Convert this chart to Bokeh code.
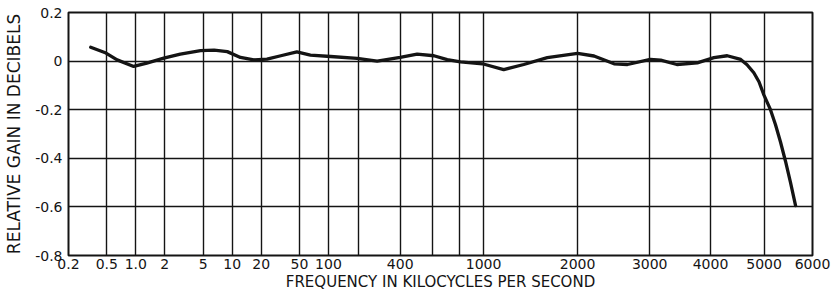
import math
from bokeh.plotting import figure
from bokeh.models import Range1d, FixedTicker, CustomJSTickFormatter
from bokeh.embed import file_html
from bokeh.resources import INLINE

# ---- data ----
FREQ_KC = [0.34, 0.49, 0.64, 0.95, 1.3, 1.95, 2.9, 4.7, 6.5, 8.9, 12.2, 16.8, 23,
           32, 47, 65, 106, 196, 282, 400, 500, 610, 705, 806, 990, 1185, 1385,
           1640, 2000, 2210, 2480, 2670, 3010, 3170, 3430, 3770, 4060, 4300, 4550,
           4670, 4800, 4900, 5000, 5127, 5228, 5329, 5431, 5534, 5640]
GAIN_DB = [0.057, 0.033, 0.005, -0.022, -0.008, 0.012, 0.029, 0.043, 0.045, 0.039,
           0.015, 0.005, 0.008, 0.022, 0.038, 0.025, 0.019, 0.011, 0.000, 0.015,
           0.029, 0.022, 0.006, -0.003, -0.011, -0.035, -0.014, 0.014, 0.032, 0.021,
           -0.011, -0.014, 0.007, 0.004, -0.014, -0.007, 0.014, 0.022, 0.007, -0.015,
           -0.048, -0.085, -0.141, -0.200, -0.262, -0.333, -0.412, -0.499, -0.595]

X_TICK_KC = [0.2, 0.5, 1.0, 2, 5, 10, 20, 50, 100, 400, 1000, 2000, 3000, 4000, 5000, 6000]
X_TICK_LABELS = ["0.2", "0.5", "1.0", "2", "5", "10", "20", "50", "100", "400",
                 "1000", "2000", "3000", "4000", "5000", "6000"]
X_GRID_KC = [0.5, 1, 2, 5, 10, 20, 50, 100, 200, 400, 600, 800, 1000, 2000, 3000, 4000, 5000]
Y_TICKS = [0.2, 0, -0.2, -0.4, -0.6, -0.8]
Y_TICK_LABELS = ["0.2", "0", "-0.2", "-0.4", "-0.6", "-0.8"]
Y_GRID = [0, -0.2, -0.4, -0.6]

X_TITLE = "FREQUENCY IN KILOCYCLES PER SECOND"
Y_TITLE = "RELATIVE GAIN IN DECIBELS"


def freq_scale(f):
    # the original chart's frequency axis: logarithmic up to 100 kc,
    # square-root law above 100 kc
    if f <= 100:
        return math.log10(f / 0.2)
    return math.log10(500) + 0.0745 * (math.sqrt(f) - 10)


FONT = "DejaVu Sans"
INK = "#141414"

xs = [freq_scale(f) for f in FREQ_KC]
x_tick_pos = [freq_scale(f) for f in X_TICK_KC]

LOOKUP = """
let i = 0, best = 1e9;
for (let k = 0; k < pos.length; k++) {
    const d = Math.abs(pos[k] - tick);
    if (d < best) { best = d; i = k; }
}
return labels[i];
"""

p = figure(width=833, height=293, output_backend="svg", toolbar_location=None,
           x_range=Range1d(0, freq_scale(6000)), y_range=Range1d(-0.8, 0.2),
           min_border_left=68, min_border_right=21, min_border_top=12,
           min_border_bottom=38, background_fill_color="white",
           border_fill_color="white")

p.outline_line_color = INK
p.outline_line_width = 2

p.xaxis.ticker = FixedTicker(ticks=x_tick_pos)
p.xaxis.formatter = CustomJSTickFormatter(
    args=dict(pos=x_tick_pos, labels=X_TICK_LABELS), code=LOOKUP)
p.yaxis.ticker = FixedTicker(ticks=Y_TICKS)
p.yaxis.formatter = CustomJSTickFormatter(
    args=dict(pos=Y_TICKS, labels=Y_TICK_LABELS), code=LOOKUP)

for ax in (p.xaxis, p.yaxis):
    ax.axis_line_color = None
    ax.major_tick_line_color = None
    ax.minor_tick_line_color = None
    ax.major_tick_out = 0
    ax.major_tick_in = 0
    ax.minor_tick_out = 0
    ax.minor_tick_in = 0
    ax.major_label_text_font = FONT
    ax.major_label_text_font_size = "14px"
    ax.major_label_text_color = INK
    ax.axis_label_text_font = FONT
    ax.axis_label_text_font_style = "normal"
    ax.axis_label_text_color = INK

p.xaxis.axis_label = X_TITLE
p.xaxis.axis_label_text_font_size = "15px"
p.xaxis.major_label_standoff = 3
p.xaxis.axis_label_standoff = 1

p.yaxis.axis_label = Y_TITLE
p.yaxis.axis_label_text_font_size = "17px"
p.yaxis.major_label_standoff = 6
p.yaxis.axis_label_standoff = 8

p.xgrid.ticker = FixedTicker(ticks=[freq_scale(f) for f in X_GRID_KC])
p.ygrid.ticker = FixedTicker(ticks=Y_GRID)
for g in (p.xgrid, p.ygrid):
    g.grid_line_color = INK
    g.grid_line_width = 1.4
    g.grid_line_alpha = 1.0

p.line(xs, GAIN_DB, line_width=3.3, line_color=INK, line_join="round", line_cap="round")

open("out.html", "w").write(file_html(p, INLINE))
